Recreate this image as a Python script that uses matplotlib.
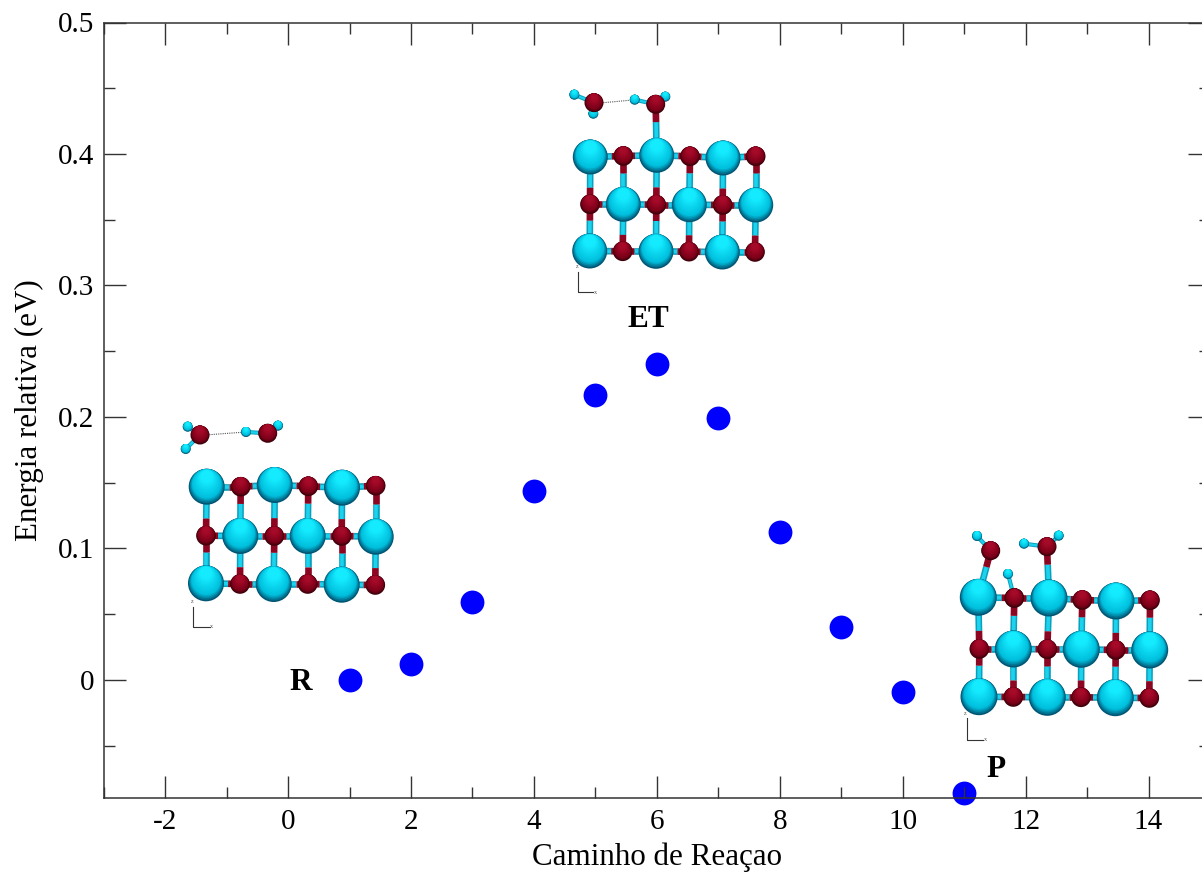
import numpy as np
import matplotlib
matplotlib.use("Agg")
import matplotlib.pyplot as plt
from matplotlib.patches import Circle

# Reaction path energies
path_step = [1, 2, 3, 4, 5, 6, 7, 8, 9, 10, 11]
energy = [0.0, 0.012, 0.059, 0.144, 0.217, 0.240, 0.199, 0.1125, 0.040, -0.009, -0.086]

x_major = [-2, 0, 2, 4, 6, 8, 10, 12, 14]
x_minor = [-3, -1, 1, 3, 5, 7, 9, 11, 13, 15]
x_labels = ["-2", "0", "2", "4", "6", "8", "10", "12", "14"]
y_major = [0, 0.1, 0.2, 0.3, 0.4, 0.5]
y_minor = [-0.05, 0.05, 0.15, 0.25, 0.35, 0.45]
y_labels = ["0", "0.1", "0.2", "0.3", "0.4", "0.5"]

stage_names = ["R", "ET", "P"]
stage_x = [0.2, 5.87, 11.52]
stage_y = [-0.0076, 0.2684, -0.0738]

# Slab sketches, picture pixels. Rows go Ti O Ti O.. / O Ti O Ti.. / Ti O Ti O..
r_slab = [
    [(206.7, 486.7), (240.7, 486.7), (274.7, 485), (308.3, 486.3), (342, 487.7), (375.7, 485.7)],
    [(206, 535.7), (240.3, 536), (274.3, 536), (307.7, 536), (341.7, 536), (375.7, 536.7)],
    [(206, 583.3), (240, 584), (273.7, 584), (307.7, 584), (341.7, 584.7), (375.3, 585)],
]
et_slab = [
    [(590.3, 157), (623.3, 156), (656.7, 155.3), (690, 156.3), (723, 158), (755.7, 156.3)],
    [(590, 204.3), (623.3, 204.3), (656.3, 204.7), (689.3, 204.7), (722.7, 205), (755.7, 205)],
    [(589.7, 251), (622.7, 251.3), (656, 251.3), (689, 251.7), (722.3, 252), (755, 252)],
]
p_slab = [
    [(978.3, 597.3), (1014.3, 598), (1049, 598), (1082.3, 600), (1116, 601), (1150, 600.3)],
    [(979.3, 649), (1013.3, 649), (1047.3, 649.3), (1081.3, 649.3), (1115.7, 650), (1149.7, 650)],
    [(979, 696.7), (1013.3, 697), (1047.3, 697.3), (1081, 697.3), (1115.3, 697.7), (1149.3, 698)],
]

# Water fragments: O position, then its H positions
r_waters = [((200, 435), [(187.7, 426.7), (185.7, 449)]),
            ((267.7, 433.3), [(246, 432), (278, 425.7)])]
et_waters = [((594, 102.7), [(574.3, 94.7), (593.3, 113.7)]),
             ((655.7, 104.3), [(634.7, 99.7), (665.3, 96.7)])]
p_waters = [((990.7, 550.7), [(977, 536)]),
            ((1047, 546.7), [(1024, 543.7), (1058.7, 535.7)]),
            ((1014.3, 598), [(1008, 574)])]

# O-Ti bonds between adsorbate and slab
et_links = [((655.7, 104.3), (656.7, 155.3))]
p_links = [((990.7, 550.7), (978.3, 597.3)), ((1047, 546.7), (1049, 598))]

# Hydrogen bond dots
r_hbond = [(209.3, 434.7), (241.7, 432.3)]
et_hbond = [(603.3, 102.7), (629.3, 100.3)]

# Little xz axes under each slab: origin, top of z, end of x
triads = [((193.3, 626.7), (193.3, 606.7), (210, 626.7)),
          ((578.3, 292), (578.3, 271.7), (593.3, 292)),
          ((967, 739.7), (967, 718.3), (983.3, 739.7))]

CYAN = [np.array([0, 85, 115]), np.array([0, 190, 220]), np.array([20, 235, 255])]
RED = [np.array([60, 0, 10]), np.array([125, 0, 25]), np.array([165, 10, 40])]


def sphere(a, x, y, r, shades):
    # shading with nested circles, dark rim stays at the bottom
    dark, base, light = shades
    for t in np.linspace(0, 1, 22):
        if t < 0.18:
            col = dark + (base - dark) * t / 0.18
        else:
            col = base + (light - base) * min(1, (t - 0.18) / 0.5)
        rad = r * (1 - 0.97 * t)
        a.add_patch(Circle((x, y - 0.88 * (r - rad)), rad, fc=col / 255, ec="none", lw=0, zorder=5))


def stick(a, p, q, width=4.8):
    # p is the Ti/H end, q the O end; colour changes nearer to the O
    m = (p[0] + 0.65 * (q[0] - p[0]), p[1] + 0.65 * (q[1] - p[1]))
    a.plot([p[0], m[0]], [p[1], m[1]], color="#0a9fbd", lw=width, solid_capstyle="butt", zorder=3)
    a.plot([p[0], m[0]], [p[1], m[1]], color="#1cd2ec", lw=width * 0.55, solid_capstyle="butt", zorder=3)
    a.plot([m[0], q[0]], [m[1], q[1]], color="#8c0622", lw=width, solid_capstyle="butt", zorder=3)


def draw_panel(a, slab, waters, links, r_ti=18, r_o=9.8):
    for i, row in enumerate(slab):
        for j, p in enumerate(row):
            is_ti = (i + j) % 2 == 0
            if j < 5:
                pair = (p, row[j + 1]) if is_ti else (row[j + 1], p)
                stick(a, *pair)
            if i < 2:
                pair = (p, slab[i + 1][j]) if is_ti else (slab[i + 1][j], p)
                stick(a, *pair)
            if is_ti:
                sphere(a, p[0], p[1], r_ti, CYAN)
            else:
                sphere(a, p[0], p[1], r_o, RED)
    for o, q in links:
        stick(a, q, o)
    for o, hs in waters:
        for h in hs:
            stick(a, h, o, width=3.0)
    for o, hs in waters:
        for h in hs:
            sphere(a, h[0], h[1], 5, CYAN)
        sphere(a, o[0], o[1], 9.5, RED)


plt.rcParams["font.family"] = ["Liberation Serif", "DejaVu Serif"]

fig = plt.figure(figsize=(12.02, 8.73), dpi=100)
W, H = 1202.0, 873.0
# right edge of the frame sits outside the picture, as in the original
ax = fig.add_axes([103.7 / W, 1 - 797.5 / H, (1210 - 103.7) / W, (797.5 - 22.5) / H])

ax.scatter(path_step, energy, s=295, color="#0000ff", linewidths=0, clip_on=False, zorder=2)

ax.set_xlim(-3, 15)
ax.set_ylim(-0.0894, 0.5)
ax.set_xticks(x_major)
ax.set_xticklabels(x_labels)
ax.set_xticks(x_minor, minor=True)
ax.set_yticks(y_major)
ax.set_yticklabels(y_labels)
ax.set_yticks(y_minor, minor=True)
ax.set_axisbelow(False)
ax.tick_params(which="major", direction="in", top=True, right=True, length=16, width=1.0,
               color="#333333", labelsize=21, pad=8)
ax.tick_params(which="minor", direction="in", top=True, right=True, length=8, width=1.0, color="#333333")
ax.tick_params(axis="y", which="major", pad=7)
for s in ax.spines.values():
    s.set_linewidth(1.1)
    s.set_color("#333333")

ax.set_xlabel("Caminho de Reaçao", fontsize=22.3, va="baseline")
ax.xaxis.set_label_coords(0.5, -0.0871)
ax.set_ylabel("Energia relativa (eV)", fontsize=22.3)
ax.yaxis.set_label_coords(-0.054, 0.5)

for name, x, y in zip(stage_names, stage_x, stage_y):
    ax.text(x, y, name, fontsize=22.5, fontweight="bold", ha="center", va="baseline")

# overlay in picture pixels for the molecule sketches
ov = fig.add_axes([0, 0, 1, 1])
ov.set_xlim(0, W)
ov.set_ylim(H, 0)
ov.axis("off")
ov.patch.set_alpha(0)

draw_panel(ov, r_slab, r_waters, [])
draw_panel(ov, et_slab, et_waters, et_links, r_ti=17.5)
draw_panel(ov, p_slab, p_waters, p_links, r_ti=18.5)

for seg in (r_hbond, et_hbond):
    ov.plot([seg[0][0], seg[1][0]], [seg[0][1], seg[1][1]], color="#555555", lw=0.8, ls=(0, (1, 1)), zorder=2)

for o, z, x in triads:
    ov.plot([z[0], o[0], x[0]], [z[1], o[1], x[1]], color="#333333", lw=0.8)
    ov.text(z[0] - 1.5, z[1] - 5, "z", fontsize=4.5, ha="center", va="center", color="#555555")
    ov.text(x[0] + 2, x[1], "x", fontsize=4.5, ha="center", va="center", color="#555555")

fig.savefig("out.png", dpi=100)
